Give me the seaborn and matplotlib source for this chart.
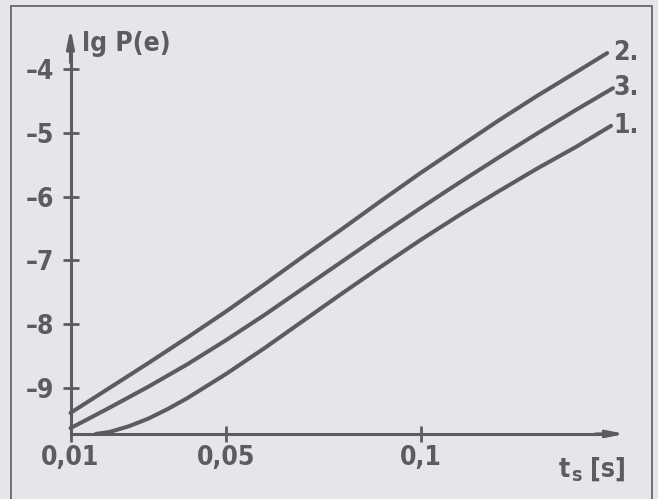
import matplotlib
matplotlib.use("Agg")
import matplotlib.pyplot as plt
from matplotlib import font_manager
from matplotlib.font_manager import FontProperties
from matplotlib.patches import Rectangle
import pandas as pd
import seaborn as sns

# switching time t_s [s] and log10 of error probability for the three cases
t_1 = [0.0165, 0.020, 0.025, 0.030, 0.035, 0.040, 0.050, 0.060, 0.070, 0.080, 0.090,
       0.100, 0.110, 0.120, 0.130, 0.140, 0.149]
lg_1 = [-9.72, -9.69, -9.60, -9.48, -9.33, -9.16, -8.78, -8.37, -7.94, -7.51, -7.09,
        -6.68, -6.29, -5.92, -5.56, -5.22, -4.89]

t_2 = [0.010, 0.020, 0.030, 0.040, 0.050, 0.060, 0.070, 0.080, 0.090, 0.100, 0.110,
       0.120, 0.130, 0.140, 0.148]
lg_2 = [-9.39, -9.00, -8.61, -8.21, -7.80, -7.37, -6.93, -6.50, -6.06, -5.63, -5.22,
        -4.81, -4.42, -4.05, -3.75]

t_3 = [0.010, 0.020, 0.030, 0.040, 0.050, 0.060, 0.070, 0.080, 0.090, 0.100, 0.110,
       0.120, 0.130, 0.140, 0.1495]
lg_3 = [-9.63, -9.31, -8.98, -8.63, -8.25, -7.85, -7.43, -7.01, -6.59, -6.18, -5.78,
        -5.39, -5.01, -4.64, -4.30]

curve_names = ["1.", "2.", "3."]
x_ticks = [0.01, 0.05, 0.1]
x_tick_labels = ["0,01", "0,05", "0,1"]
y_ticks = [-4, -5, -6, -7, -8, -9]
y_tick_labels = ["\u20134", "\u20135", "\u20136", "\u20137", "\u20138", "\u20139"]

df = pd.concat([
    pd.DataFrame({"t": t_1, "lg": lg_1, "curve": curve_names[0]}),
    pd.DataFrame({"t": t_2, "lg": lg_2, "curve": curve_names[1]}),
    pd.DataFrame({"t": t_3, "lg": lg_3, "curve": curve_names[2]}),
])

sns.set_style("white")
plt.rcParams["font.family"] = ["DejaVu Sans"]


def narrow_bold_font():
    """Pick a condensed bold sans face for the lettering."""
    entries = font_manager.fontManager.ttflist
    for e in entries:
        if e.name == "Liberation Sans Narrow" and e.weight in (700, "bold") and e.style == "normal":
            return e.fname
    for e in entries:
        if e.name == "DejaVu Sans" and "ondensed" in str(e.stretch) + e.fname \
                and e.weight in (700, "bold") and e.style == "normal":
            return e.fname
    return None


font_file = narrow_bold_font()


def lettering(size=19):
    if font_file:
        return FontProperties(fname=font_file, size=size)
    return FontProperties(family="DejaVu Sans", weight="bold", stretch="condensed", size=size)


ink = "#5c5c60"
paper = "#e5e6ea"
W, H = 658, 499

fig = plt.figure(figsize=(6.58, 4.99), dpi=100, facecolor=paper)
ax = fig.add_axes([0, 0, 1, 1])
ax.set_facecolor(paper)

x0, y0 = 0.01, -9.72          # axis origin
x_tip, y_tip = 0.1526, -3.357  # arrow tips
ax.set_xlim(-0.00813, 0.16107)
ax.set_ylim(-10.740, -2.918)

sns.lineplot(data=df, x="t", y="lg", hue="curve", palette=[ink] * 3,
             legend=False, errorbar=None, sort=True, lw=2.9,
             solid_capstyle="round", solid_joinstyle="round", ax=ax)

# axes drawn as arrows through the origin
for side in ["top", "right"]:
    ax.spines[side].set_visible(False)
ax.spines["left"].set_position(("data", x0))
ax.spines["bottom"].set_position(("data", y0))
ax.spines["left"].set_bounds(y0, -3.75)
ax.spines["bottom"].set_bounds(x0, 0.149)
for side in ["left", "bottom"]:
    ax.spines[side].set_color(ink)
    ax.spines[side].set_linewidth(2.2)

ax.annotate("", xy=(x0, y_tip), xytext=(x0, -3.9),
            arrowprops=dict(arrowstyle="-|>,head_length=1.1,head_width=0.22",
                            color=ink, lw=2.2, shrinkA=0, shrinkB=0))
ax.annotate("", xy=(x_tip, y0), xytext=(0.145, y0),
            arrowprops=dict(arrowstyle="-|>,head_length=1.0,head_width=0.2",
                            color=ink, lw=2.2, shrinkA=0, shrinkB=0))

ax.set_xticks(x_ticks)
ax.set_xticklabels(x_tick_labels)
ax.set_yticks(y_ticks)
ax.set_yticklabels(y_tick_labels)
ax.tick_params(axis="both", which="major", direction="inout", length=11, width=2.0,
               color=ink, labelcolor=ink, left=True, bottom=True)
ax.tick_params(axis="x", pad=2.5)
ax.tick_params(axis="y", pad=6.5)
for lab in ax.get_xticklabels() + ax.get_yticklabels():
    lab.set_fontproperties(lettering())
ax.set_xlabel("")
ax.set_ylabel("")

# axis titles
ax.text(82 / W, 1 - 51 / H, "lg P(e)", transform=ax.transAxes,
        fontproperties=lettering(), color=ink, ha="left", va="baseline")
ax.text(559 / W, 1 - 477 / H, "t", transform=ax.transAxes,
        fontproperties=lettering(), color=ink, ha="left", va="baseline")
ax.text(571 / W, 1 - 481 / H, "s", transform=ax.transAxes,
        fontproperties=lettering(14), color=ink, ha="left", va="baseline")
ax.text(626 / W, 1 - 477 / H, "[s]", transform=ax.transAxes,
        fontproperties=lettering(), color=ink, ha="right", va="baseline")

# curve numbers at the line ends
ends = {"2.": lg_2[-1], "3.": lg_3[-1], "1.": lg_1[-1]}
for name, v in ends.items():
    ax.text(0.1495, v, name, fontproperties=lettering(), color=ink,
            ha="left", va="center")

# printed frame around the figure
fig.patches.append(Rectangle((11 / W, -0.05), (652 - 11) / W, 1.05 - 6 / H,
                             transform=fig.transFigure, fill=False,
                             edgecolor="#707074", lw=1.4))

fig.savefig("out.png", dpi=100, facecolor=paper)
